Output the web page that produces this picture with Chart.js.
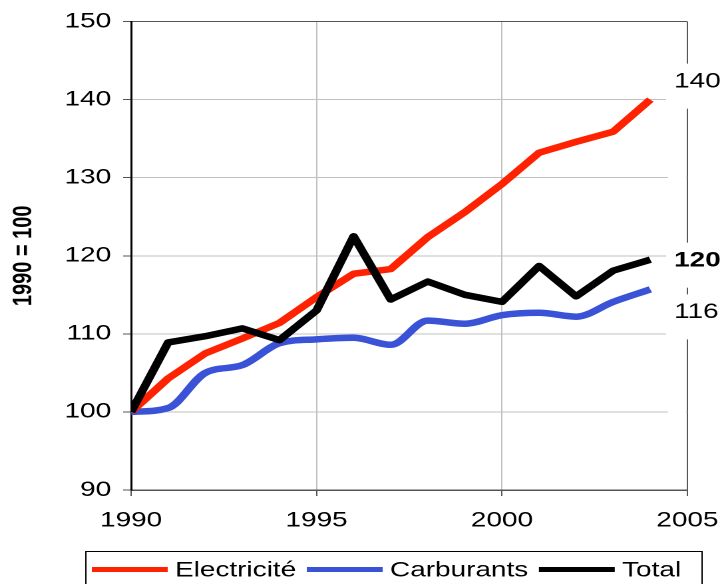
<!DOCTYPE html>
<html><head><meta charset="utf-8">
<script src="https://cdn.jsdelivr.net/npm/chart.js@4/dist/chart.umd.min.js"></script>
<style>
html,body{margin:0;padding:0;background:#fff;overflow:hidden;}
#wrap{position:absolute;left:0;top:0;width:544px;height:584px;transform:scaleX(1.3309);transform-origin:0 0;}
</style></head><body>
<div id="wrap"><canvas id="c"></canvas></div>
<script>
// ---- data ----
const years = [1990, 1991, 1992, 1993, 1994, 1995, 1996, 1997, 1998, 1999, 2000, 2001, 2002, 2003, 2004];
const electricite = [100, 104.3, 107.5, 109.4, 111.4, 114.7, 117.7, 118.3, 122.4, 125.6, 129.2, 133.2, 134.6, 135.9, 140.0];
const carburants = [100, 100.5, 105.0, 106.0, 108.8, 109.3, 109.5, 108.6, 111.7, 111.3, 112.4, 112.7, 112.2, 114.1, 115.7];
const total = [100, 108.9, 109.7, 110.7, 109.2, 113.0, 122.5, 114.4, 116.7, 115.0, 114.1, 118.7, 114.8, 118.1, 119.5];
const seriesNames = ['Electricité', 'Carburants', 'Total'];
const xTicks = [1990, 1995, 2000, 2005];
const yTicks = [90, 100, 110, 120, 130, 140, 150];
const yTitle = '1990 = 100';

const FONT = "'Liberation Sans', Arial, sans-serif";
const colors = ['#ff2200', '#3a52d6', '#000000'];
const series = [electricite, carburants, total];

const refPlugin = {
  id: 'refStyle',
  beforeDatasetsDraw(chart) {
    const {ctx, chartArea: a} = chart;
    ctx.save();
    ctx.fillStyle = '#fff';
    const x0 = a.right - 14.5;
    ctx.fillRect(x0, a.top + 1, a.right - 1 - x0, a.bottom - a.top - 2);
    ctx.restore();
  },
  afterDatasetsDraw(chart) {
    const {ctx, chartArea: a, scales: {y}} = chart;
    const offsets = [-18, 23, 1];
    ctx.save();
    chart.data.datasets.forEach((ds, i) => {
      const last = ds.data[ds.data.length - 1].y;
      const py = y.getPixelForValue(last) + offsets[i];
      ctx.fillStyle = '#fff';
      ctx.fillRect(a.right - 16, py - 18, chart.width - (a.right - 16), 45);
      ctx.fillStyle = '#000';
      ctx.font = (i === 2 ? 'bold ' : '') + '21px ' + FONT;
      ctx.textAlign = 'left';
      ctx.textBaseline = 'middle';
      ctx.fillText(String(Math.round(last)), a.right - 10, py);
    });
    ctx.restore();
  },
  afterDraw(chart) {
    const {ctx} = chart;
    ctx.save();
    ctx.strokeStyle = '#000';
    ctx.lineWidth = 1;
    ctx.strokeRect(64.5, 551.5, 463, 60);
    ctx.font = '21px ' + FONT;
    ctx.textAlign = 'left';
    ctx.textBaseline = 'middle';
    let x = 69;
    const yc = 569.5;
    chart.data.datasets.forEach(ds => {
      ctx.strokeStyle = ds.borderColor;
      ctx.lineWidth = 5;
      ctx.lineCap = 'butt';
      ctx.beginPath();
      ctx.moveTo(x, yc);
      ctx.lineTo(x + 57, yc);
      ctx.stroke();
      ctx.fillStyle = '#000';
      ctx.fillText(ds.label, x + 62.5, yc + 1);
      x += 62.5 + ctx.measureText(ds.label).width + 8;
    });
    ctx.restore();
  }
};

const datasets = series.map((arr, i) => ({
  label: seriesNames[i],
  data: years.map((yr, k) => ({x: yr, y: arr[k]})),
  borderColor: colors[i],
  backgroundColor: colors[i],
  borderWidth: 6.5,
  pointRadius: 0,
  pointHoverRadius: 0,
  borderJoinStyle: 'round',
  borderCapStyle: 'butt',
  tension: 0,
  cubicInterpolationMode: i === 1 ? 'monotone' : 'default',
  order: i === 2 ? 0 : i + 1
}));

new Chart(document.getElementById('c'), {
  type: 'line',
  data: {datasets},
  plugins: [refPlugin],
  options: {
    responsive: true,
    maintainAspectRatio: false,
    animation: false,
    devicePixelRatio: 2,
    layout: {padding: {left: 0, right: 27.5, top: 20, bottom: 54}},
    plugins: {legend: {display: false}, tooltip: {enabled: false}},
    scales: {
      x: {
        type: 'linear',
        min: xTicks[0], max: xTicks[xTicks.length - 1],
        afterBuildTicks: s => { s.ticks = xTicks.map(v => ({value: v})); },
        afterFit: s => { s.height = 40; s.paddingRight = 20; s.paddingLeft = 20; },
        ticks: {color: '#000', font: {family: FONT, size: 21}, padding: 12, maxRotation: 0, callback: v => String(v)},
        grid: {
          color: c => c.tick.value === xTicks[0] ? 'rgba(0,0,0,0)' : (c.tick.value === xTicks[xTicks.length - 1] ? '#555' : '#c0c0c0'),
          tickColor: '#555', tickLength: 6, lineWidth: 1
        },
        border: {color: '#555', width: 1.5}
      },
      y: {
        type: 'linear',
        min: yTicks[0], max: yTicks[yTicks.length - 1],
        afterBuildTicks: s => { s.ticks = yTicks.map(v => ({value: v})); },
        afterFit: s => { s.width = 98.5; },
        ticks: {color: '#000', font: {family: FONT, size: 21}, padding: 9, callback: v => String(v)},
        grid: {
          color: c => c.tick.value === yTicks[yTicks.length - 1] ? '#555' : (c.tick.value === yTicks[0] ? 'rgba(0,0,0,0)' : '#c0c0c0'),
          tickColor: '#555', tickLength: 6, lineWidth: 1
        },
        border: {color: '#000', width: 1.5},
        title: {display: true, text: yTitle, color: '#000', font: {family: FONT, size: 20, weight: 'bold'}, padding: {top: 6, bottom: 0}}
      }
    }
  }
});
</script>
</body></html>
